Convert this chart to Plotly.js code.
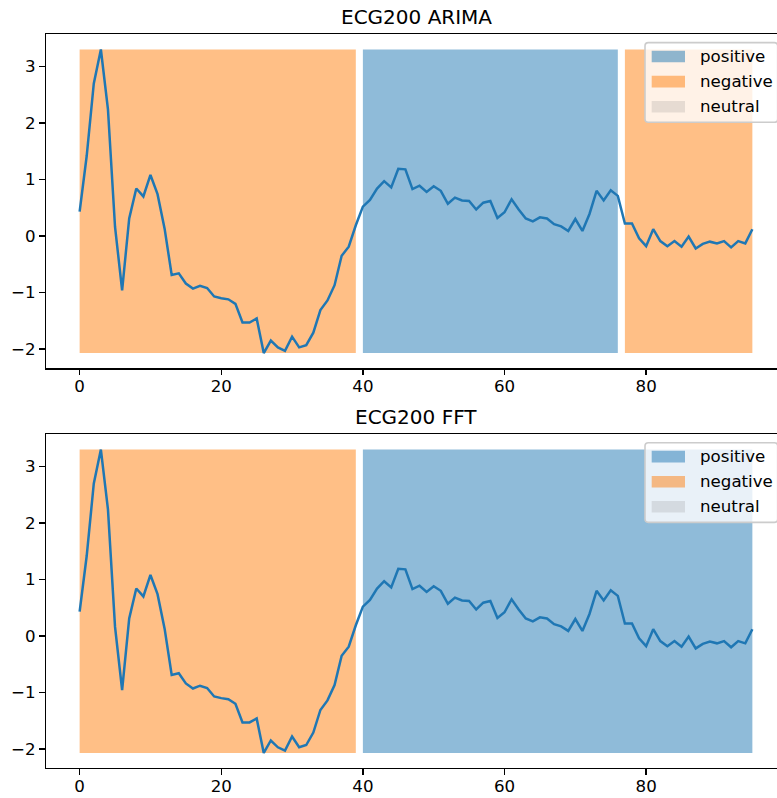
<!DOCTYPE html>
<html>
<head>
<meta charset="utf-8">
<script src="https://cdn.plot.ly/plotly-3.0.1.min.js"></script>
<style>
  html, body { margin: 0; padding: 0; overflow: hidden; background: #fff; }
  #chart { width: 800px; height: 798px; }
</style>
</head>
<body>
<div id="chart"></div>
<script>
// ---------------- data ----------------
const values = [0.43, 1.42, 2.70, 3.30, 2.24, 0.16, -0.96, 0.31, 0.84, 0.70,
  1.08, 0.74, 0.13, -0.69, -0.66, -0.84, -0.93, -0.88, -0.92, -1.07,
  -1.10, -1.12, -1.20, -1.53, -1.53, -1.46, -2.07, -1.85, -1.97, -2.03,
  -1.78, -1.97, -1.93, -1.71, -1.31, -1.14, -0.87, -0.35, -0.19, 0.19,
  0.52, 0.64, 0.84, 0.97, 0.86, 1.19, 1.18, 0.83, 0.89, 0.78,
  0.88, 0.80, 0.57, 0.68, 0.63, 0.62, 0.47, 0.59, 0.62, 0.32,
  0.42, 0.65, 0.47, 0.31, 0.26, 0.33, 0.31, 0.21, 0.17, 0.09,
  0.30, 0.09, 0.39, 0.80, 0.63, 0.81, 0.71, 0.22, 0.22, -0.04,
  -0.18, 0.12, -0.09, -0.18, -0.09, -0.19, -0.01, -0.22, -0.14, -0.10,
  -0.13, -0.09, -0.20, -0.09, -0.13, 0.12];

const arimaStarts = [0, 40, 77];
const arimaEnds   = [39, 76, 95];
const arimaLabels = ['negative', 'positive', 'negative'];

const fftStarts = [0, 40];
const fftEnds   = [39, 95];
const fftLabels = ['negative', 'positive'];

const legendLabels = ['positive', 'negative', 'neutral'];
const titles = ['ECG200 ARIMA', 'ECG200 FFT'];
const xTicks = [0, 20, 40, 60, 80];
const yTicks = [-2, -1, 0, 1, 2, 3];

// ---------------- styles ----------------
const labelColors = {
  positive: 'rgba(31,119,180,0.5)',
  negative: 'rgba(255,127,14,0.5)',
  neutral: 'rgba(128,128,128,0.2)'
};
const FONT = 'DejaVu Sans, Liberation Sans, sans-serif';
const W = 800, H = 798, L = 46, R = 14, PW = W - L - R;
const xp = px => (px - L) / PW;
const yp = py => (H - py) / H;

const xIdx = values.map((_, i) => i);
const lo = Math.min(...values), hi = Math.max(...values);
const pad = 0.05 * (hi - lo);
const yRange = [lo - pad, hi + pad];
const xRange = [-0.05 * (values.length - 1), (values.length - 1) * 1.05];

const traces = [];
function addPanel(starts, ends, labels, xa, ya) {
  for (let k = 0; k < starts.length; k++) {
    const s = starts[k], e = ends[k];
    traces.push({
      type: 'scatter', mode: 'lines', xaxis: xa, yaxis: ya,
      x: [s, e, e, s, s], y: [lo, lo, hi, hi, lo],
      fill: 'toself', fillcolor: labelColors[labels[k]],
      line: { width: 0 }, hoverinfo: 'skip', showlegend: false
    });
  }
  traces.push({
    type: 'scatter', mode: 'lines', xaxis: xa, yaxis: ya,
    x: xIdx, y: values,
    line: { color: '#1f77b4', width: 2.5 }, showlegend: false
  });
}
addPanel(arimaStarts, arimaEnds, arimaLabels, 'x', 'y');
addPanel(fftStarts, fftEnds, fftLabels, 'x2', 'y2');

// panel pixel extents (top, bottom)
const panels = [[34.3, 368.2], [434.4, 768.1]];

const shapes = [];
const annotations = [];
panels.forEach((p, pi) => {
  const top = p[0];
  // title
  annotations.push({
    xref: 'paper', yref: 'paper', x: 0.5, y: yp(top - 17),
    xanchor: 'center', yanchor: 'middle', showarrow: false,
    text: titles[pi], font: { family: FONT, size: 20, color: '#000' }
  });
  // legend frame
  const bx0 = 645, bx1 = 777.7, by0 = top + 8.3, by1 = top + 88;
  const r = 3.3;
  const X = px => xp(px).toFixed(5), Y = py => yp(py).toFixed(5);
  const path = `M${X(bx0 + r)},${Y(by0)} L${X(bx1 - r)},${Y(by0)} Q${X(bx1)},${Y(by0)} ${X(bx1)},${Y(by0 + r)} ` +
    `L${X(bx1)},${Y(by1 - r)} Q${X(bx1)},${Y(by1)} ${X(bx1 - r)},${Y(by1)} ` +
    `L${X(bx0 + r)},${Y(by1)} Q${X(bx0)},${Y(by1)} ${X(bx0)},${Y(by1 - r)} ` +
    `L${X(bx0)},${Y(by0 + r)} Q${X(bx0)},${Y(by0)} ${X(bx0 + r)},${Y(by0)} Z`;
  shapes.push({
    type: 'path', xref: 'paper', yref: 'paper', path: path,
    fillcolor: 'rgba(255,255,255,0.8)', line: { color: '#cccccc', width: 1.6 }
  });
  legendLabels.forEach((lab, li) => {
    const cy = top + 22.2 + li * 25.1;
    shapes.push({
      type: 'rect', xref: 'paper', yref: 'paper',
      x0: xp(651.7), x1: xp(685), y0: yp(cy - 5.8), y1: yp(cy + 5.8),
      fillcolor: labelColors[lab], line: { width: 0 }
    });
    annotations.push({
      xref: 'paper', yref: 'paper', x: xp(698.3), y: yp(cy),
      xanchor: 'left', yanchor: 'middle', showarrow: false,
      text: lab, font: { family: FONT, size: 16.67, color: '#000' }
    });
  });
});

function xAxis(anchor) {
  return {
    anchor: anchor, domain: [0, 1], range: xRange,
    tickmode: 'array', tickvals: xTicks,
    ticks: 'outside', ticklen: 5.8, tickwidth: 1.3, tickcolor: '#000',
    ticklabelstandoff: -3,
    showline: true, mirror: true, linecolor: '#000', linewidth: 1.3,
    showgrid: false, zeroline: false,
    tickfont: { family: FONT, size: 16.67, color: '#000' }
  };
}
function yAxis(anchor, dom) {
  return {
    anchor: anchor, domain: dom, range: yRange,
    tickmode: 'array', tickvals: yTicks,
    ticks: 'outside', ticklen: 5.8, tickwidth: 1.3, tickcolor: '#000',
    showline: true, mirror: true, linecolor: '#000', linewidth: 1.3,
    showgrid: false, zeroline: false,
    tickfont: { family: FONT, size: 16.67, color: '#000' }
  };
}

const layout = {
  width: W, height: H,
  margin: { l: L, r: R, t: 0, b: 0, autoexpand: false },
  paper_bgcolor: '#fff', plot_bgcolor: '#fff',
  showlegend: false,
  xaxis: xAxis('y'),
  yaxis: yAxis('x', [yp(panels[0][1]), yp(panels[0][0])]),
  xaxis2: xAxis('y2'),
  yaxis2: yAxis('x2', [yp(panels[1][1]), yp(panels[1][0])]),
  shapes: shapes,
  annotations: annotations
};

Plotly.newPlot('chart', traces, layout, { displayModeBar: false, staticPlot: true });
</script>
</body>
</html>
